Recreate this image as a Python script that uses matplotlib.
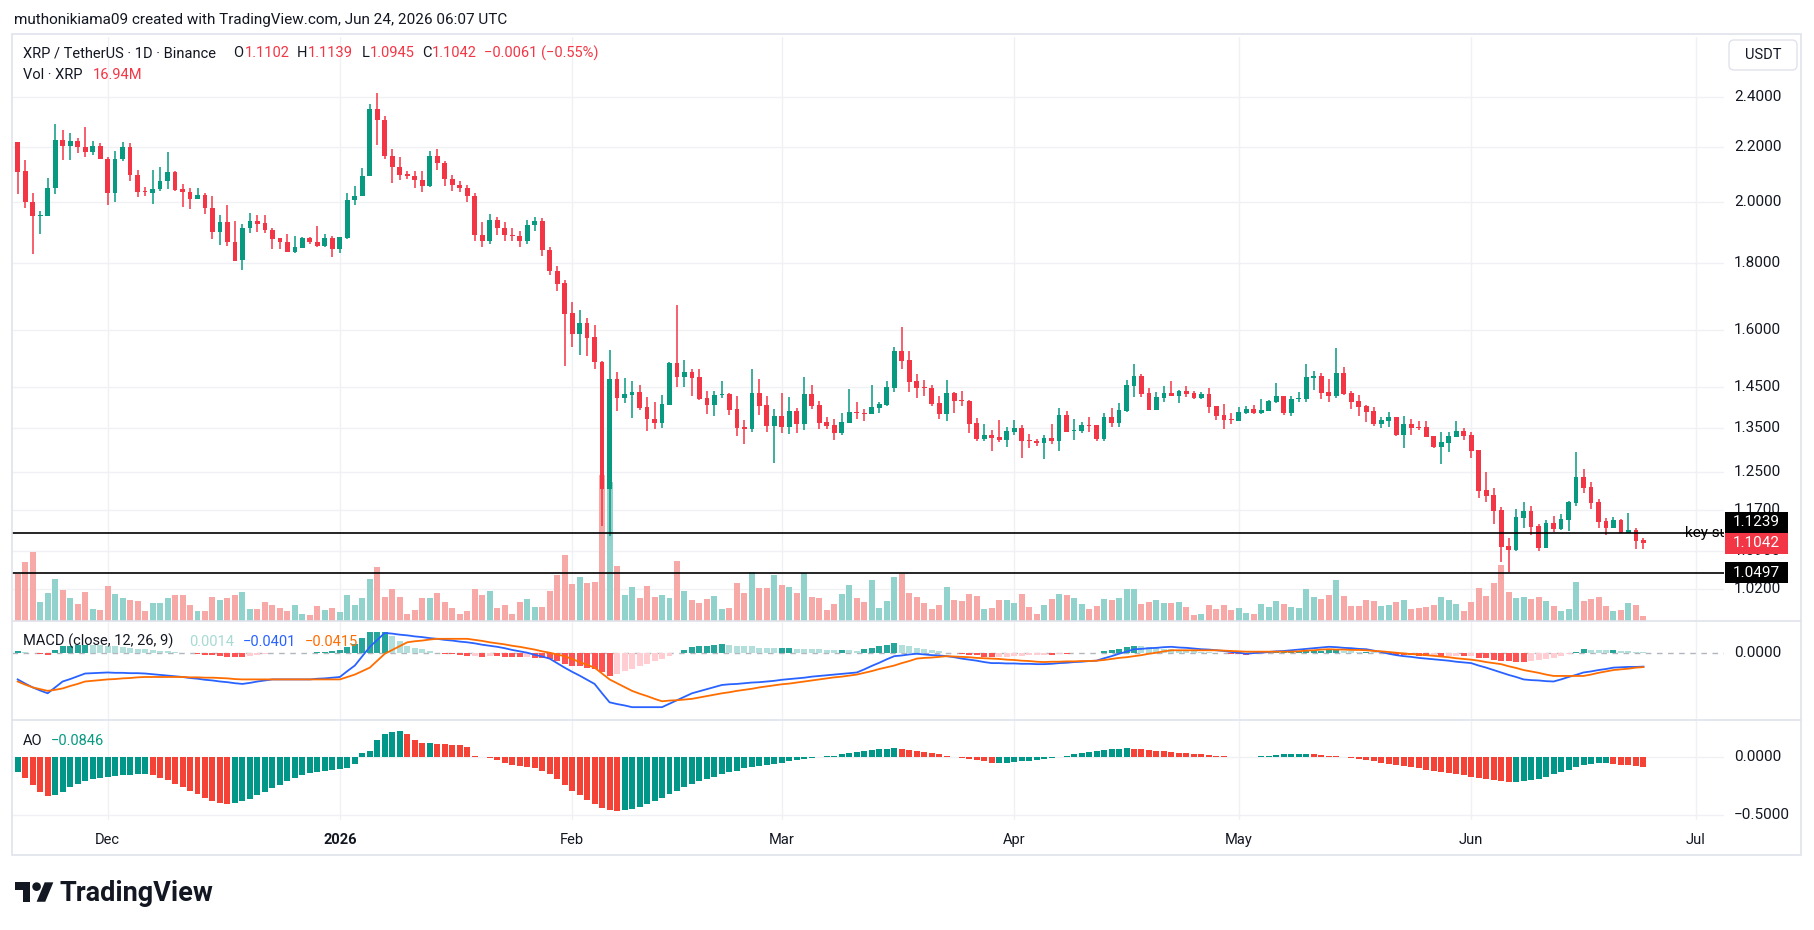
import datetime as dt

import matplotlib

matplotlib.use("Agg")
import matplotlib.pyplot as plt
import numpy as np
from matplotlib.collections import PatchCollection
from matplotlib.patches import Circle, FancyBboxPatch, Polygon, Rectangle
from matplotlib.transforms import Bbox, IdentityTransform

plt.rcParams["font.family"] = ["Roboto", "DejaVu Sans"]

# ---- data (daily XRP/USDT, 2025-11-19 .. 2026-06-24) ----
FIRST_DAY = dt.date(2025, 11, 19)
ORIGIN = dt.date(2025, 12, 1)

opens = [
    # Nov 19-30
    2.2215, 2.1117, 2.0012, 1.9513, 1.9513, 2.0478, 2.2283, 2.2029, 2.2243, 2.2016, 2.1804, 2.2056,
    # Dec
    2.1570, 2.0305, 2.1542, 2.2016, 2.0976, 2.0368, 2.0305, 2.0441, 2.0739, 2.1079, 2.0441, 2.0368,
    2.0098, 2.0256, 1.9809, 1.8978, 1.9324, 1.8671, 1.8072, 1.9105, 1.9359, 1.9266, 1.9059, 1.8772,
    1.8671, 1.8325, 1.8458, 1.8772, 1.8671, 1.8525, 1.8796,
    # Jan
    1.8425, 1.8796, 2.0062, 2.0195, 2.0914, 2.3527, 2.3076, 2.1674, 2.1270, 2.0989, 2.0939, 2.0789,
    2.0552, 2.1674, 2.1413, 2.0800, 2.0600, 2.0500, 2.0200, 1.8900, 1.8700, 1.9400, 1.9100, 1.8900,
    1.8850, 1.8700, 1.9200, 1.9350, 1.8400, 1.7750, 1.7362,
    # Feb
    1.6490, 1.5907, 1.6206, 1.5815, 1.5142, 1.2140, 1.4701, 1.4230, 1.4296, 1.4371, 1.4000, 1.3712,
    1.3626, 1.4058, 1.5116, 1.4753, 1.4881, 1.4753, 1.4222, 1.4058, 1.4296, 1.4321, 1.3953, 1.3532,
    1.3485, 1.4347, 1.4049, 1.3556,
    # Mar
    1.3784, 1.3524, 1.3904, 1.3595, 1.4321, 1.4049, 1.3641, 1.3571, 1.3392, 1.3626, 1.3880, 1.3856,
    1.3840, 1.3985, 1.4049, 1.4480, 1.5434, 1.5194, 1.4649, 1.4497, 1.4472, 1.4099, 1.3840, 1.4346,
    1.4173, 1.4148, 1.3617, 1.3242, 1.3335, 1.3288, 1.3219,
    # Apr
    1.3405, 1.3499, 1.3219, 1.3196, 1.3151, 1.3266, 1.3204, 1.3808, 1.3436, 1.3428, 1.3569, 1.3569,
    1.3242, 1.3760, 1.3617, 1.3904, 1.4522, 1.4777, 1.4346, 1.3928, 1.4222, 1.4346, 1.4272, 1.4396,
    1.4346, 1.4222, 1.4322, 1.4025, 1.3808, 1.3712,
    # May
    1.3665, 1.3856, 1.3953, 1.3856, 1.3904, 1.4123, 1.4272, 1.3856, 1.4197, 1.4197, 1.4734, 1.4777,
    1.4371, 1.4280, 1.4854, 1.4355, 1.4148, 1.4025, 1.3904, 1.3601, 1.3665, 1.3752, 1.3343, 1.3585,
    1.3522, 1.3514, 1.3312, 1.3067, 1.3159, 1.3296, 1.3429,
    # Jun
    1.3335, 1.2991, 1.2118, 1.2013, 1.1703, 1.0993, 1.0923, 1.1549, 1.1683, 1.1382, 1.0961, 1.1442,
    1.1323, 1.1508, 1.1853, 1.2395, 1.2181, 1.1867, 1.1481, 1.1349, 1.1502, 1.1245, 1.1303, 1.1102,
]
highs = [
    2.2215, 2.1529, 2.0331, 1.9702, 2.0864, 2.2910, 2.2676, 2.2567, 2.2364, 2.2799, 2.2243, 2.2176,
    2.1635, 2.1871, 2.2215, 2.2176, 2.1155, 2.0540, 2.1155, 2.1270, 2.1804, 2.1117, 2.0627, 2.0503,
    2.0503, 2.0331, 2.0195, 1.9536, 1.9904, 1.9359, 1.9243, 1.9630, 1.9536, 1.9536, 1.9128, 1.8796,
    1.8932, 1.8864, 1.8830, 1.8830, 1.9197, 1.8910, 1.8864,
    1.8830, 2.0331, 2.0578, 2.1232, 2.3726, 2.4190, 2.3229, 2.1937, 2.1635, 2.1117, 2.1117, 2.1117,
    2.1871, 2.1937, 2.1464, 2.0950, 2.0750, 2.0600, 2.0300, 1.9300, 1.9600, 1.9500, 1.9300, 1.9100,
    1.9000, 1.9400, 1.9500, 1.9450, 1.8500, 1.7900, 1.7463,
    1.6809, 1.6577, 1.6347, 1.6150, 1.5169, 1.5462, 1.4881, 1.4726, 1.4650, 1.4547, 1.4246, 1.4123,
    1.4296, 1.5142, 1.6722, 1.5195, 1.4959, 1.4959, 1.4397, 1.4397, 1.4650, 1.4347, 1.4272, 1.3689,
    1.4959, 1.4701, 1.4272, 1.3953,
    1.4347, 1.4246, 1.3976, 1.4753, 1.4547, 1.4148, 1.3760, 1.3712, 1.3856, 1.4447, 1.4123, 1.3953,
    1.4547, 1.4123, 1.4649, 1.5550, 1.6101, 1.5434, 1.4829, 1.4674, 1.4547, 1.4272, 1.4674, 1.4371,
    1.4396, 1.4173, 1.3736, 1.3593, 1.3452, 1.3688, 1.3522,
    1.3688, 1.3569, 1.3358, 1.3242, 1.3335, 1.3593, 1.3976, 1.3904, 1.3712, 1.3640, 1.3760, 1.3569,
    1.3864, 1.3976, 1.4099, 1.4674, 1.5089, 1.4829, 1.4472, 1.4371, 1.4522, 1.4649, 1.4421, 1.4522,
    1.4396, 1.4371, 1.4472, 1.4025, 1.4075, 1.3856,
    1.4000, 1.4025, 1.4049, 1.4205, 1.4173, 1.4598, 1.4272, 1.4272, 1.4371, 1.5089, 1.4914, 1.4854,
    1.4700, 1.5523, 1.5010, 1.4396, 1.4296, 1.4049, 1.4000, 1.3768, 1.3880, 1.3768, 1.3776, 1.3712,
    1.3672, 1.3665, 1.3312, 1.3405, 1.3405, 1.3665, 1.3499,
    1.3405, 1.2991, 1.2503, 1.2168, 1.1764, 1.1147, 1.1723, 1.1867, 1.1785, 1.1422, 1.1502, 1.1582,
    1.1622, 1.1882, 1.2946, 1.2568, 1.2288, 1.1929, 1.1542, 1.1562, 1.1521, 1.1643, 1.1343, 1.1139,
]
lows = [
    2.0269, 1.9785, 1.8269, 1.8932, 1.9513, 2.0269, 2.1529, 2.1503, 2.1765, 2.1622, 2.1687, 2.1542,
    1.9880, 1.9988, 2.1464, 2.0739, 2.0171, 2.0195, 1.9916, 2.0380, 2.0454, 2.0380, 1.9821, 1.9750,
    2.0098, 1.9583, 1.8750, 1.8547, 1.8525, 1.8040, 1.7758, 1.8944, 1.8978, 1.8944, 1.8425, 1.8425,
    1.8325, 1.8292, 1.8458, 1.8582, 1.8491, 1.8491, 1.8170,
    1.8292, 1.8750, 1.9880, 2.0195, 2.0914, 2.2069, 2.1570, 2.0689, 2.0764, 2.0826, 2.0478, 2.0368,
    2.0515, 2.1155, 2.0578, 2.0400, 2.0350, 2.0000, 1.8700, 1.8500, 1.8600, 1.8900, 1.8700, 1.8700,
    1.8500, 1.8600, 1.9000, 1.8200, 1.7600, 1.7143, 1.5037,
    1.5542, 1.5328, 1.5301, 1.4959, 1.1389, 1.1186, 1.3904, 1.4099, 1.3737, 1.3928, 1.3431, 1.3477,
    1.3508, 1.4058, 1.4497, 1.4497, 1.4272, 1.4172, 1.3832, 1.3784, 1.4222, 1.3808, 1.3315, 1.3131,
    1.3407, 1.3808, 1.3407, 1.2701,
    1.3392, 1.3361, 1.3392, 1.3454, 1.3953, 1.3477, 1.3477, 1.3222, 1.3346, 1.3626, 1.3712, 1.3666,
    1.3840, 1.3864, 1.4033, 1.4379, 1.4967, 1.4379, 1.4231, 1.4280, 1.4033, 1.3720, 1.3665, 1.3864,
    1.4025, 1.3389, 1.3204, 1.3204, 1.2968, 1.3181, 1.3059,
    1.3335, 1.2811, 1.3037, 1.3081, 1.2789, 1.3127, 1.2968, 1.3405, 1.3219, 1.3389, 1.3405, 1.3196,
    1.3196, 1.3522, 1.3522, 1.3880, 1.4247, 1.4247, 1.3928, 1.3928, 1.4123, 1.4272, 1.4099, 1.4247,
    1.4197, 1.4197, 1.3856, 1.3688, 1.3475, 1.3593,
    1.3665, 1.3831, 1.3831, 1.3831, 1.3904, 1.4099, 1.3808, 1.3784, 1.4123, 1.4123, 1.4421, 1.4205,
    1.4131, 1.4231, 1.4305, 1.3960, 1.3776, 1.3649, 1.3554, 1.3506, 1.3530, 1.3320, 1.3045, 1.3343,
    1.3460, 1.3296, 1.3045, 1.2686, 1.2954, 1.3296, 1.3227,
    1.2820, 1.1958, 1.1874, 1.1428, 1.0697, 1.0500, 1.0904, 1.1343, 1.1212, 1.0904, 1.0961, 1.1270,
    1.1303, 1.1290, 1.1792, 1.2061, 1.1731, 1.1349, 1.1212, 1.1349, 1.1245, 1.1245, 1.0942, 1.0945,
]
closes = [
    2.1079, 1.9988, 1.9513, 1.9536, 2.0503, 2.2283, 2.2029, 2.2243, 2.1990, 2.1804, 2.2056, 2.1542,
    2.0305, 2.1570, 2.2016, 2.0951, 2.0343, 2.0343, 2.0466, 2.0751, 2.1079, 2.0405, 2.0343, 2.0098,
    2.0256, 1.9785, 1.8978, 1.9324, 1.8649, 1.8061, 1.9128, 1.9359, 1.9243, 1.9046, 1.8750, 1.8649,
    1.8325, 1.8480, 1.8772, 1.8649, 1.8525, 1.8796, 1.8425,
    1.8830, 2.0086, 2.0220, 2.0939, 2.3527, 2.3048, 2.1648, 2.1244, 2.0951, 2.0939, 2.0764, 2.0552,
    2.1674, 2.1387, 2.0801, 2.0600, 2.0500, 2.0200, 1.8900, 1.8700, 1.9400, 1.9100, 1.8900, 1.8850,
    1.8700, 1.9200, 1.9350, 1.8400, 1.7750, 1.7343, 1.6471,
    1.5907, 1.6206, 1.5796, 1.5142, 1.2140, 1.4701, 1.4230, 1.4321, 1.4371, 1.3976, 1.3712, 1.3626,
    1.4075, 1.5116, 1.4753, 1.4881, 1.4726, 1.4205, 1.4058, 1.4296, 1.4321, 1.3936, 1.3508, 1.3485,
    1.4347, 1.4033, 1.3556, 1.3784,
    1.3524, 1.3904, 1.3595, 1.4321, 1.4025, 1.3618, 1.3556, 1.3392, 1.3641, 1.3880, 1.3856, 1.3840,
    1.4000, 1.4083, 1.4497, 1.5434, 1.5177, 1.4632, 1.4480, 1.4480, 1.4083, 1.3840, 1.4346, 1.4157,
    1.4157, 1.3601, 1.3242, 1.3335, 1.3266, 1.3219, 1.3428,
    1.3499, 1.3204, 1.3204, 1.3151, 1.3266, 1.3204, 1.3808, 1.3405, 1.3452, 1.3569, 1.3553, 1.3242,
    1.3760, 1.3617, 1.3928, 1.4547, 1.4777, 1.4322, 1.3928, 1.4247, 1.4346, 1.4272, 1.4396, 1.4322,
    1.4222, 1.4322, 1.4000, 1.3784, 1.3688, 1.3696,
    1.3880, 1.3953, 1.3856, 1.3928, 1.4148, 1.4272, 1.3856, 1.4197, 1.4222, 1.4751, 1.4777, 1.4355,
    1.4280, 1.4854, 1.4322, 1.4131, 1.4009, 1.3888, 1.3601, 1.3688, 1.3752, 1.3343, 1.3585, 1.3506,
    1.3506, 1.3296, 1.3067, 1.3173, 1.3312, 1.3429, 1.3320,
    1.2977, 1.2103, 1.1998, 1.1690, 1.0980, 1.0923, 1.1562, 1.1683, 1.1369, 1.0961, 1.1442, 1.1329,
    1.1521, 1.1867, 1.2395, 1.2168, 1.1853, 1.1468, 1.1349, 1.1502, 1.1245, 1.1303, 1.1095, 1.1042,
]
volumes = [  # millions of XRP
    170, 211, 248, 68, 100, 150, 111, 82, 60, 104, 42, 39,
    125, 96, 82, 75, 71, 35, 64, 64, 82, 93, 93, 56, 35, 35, 85, 75, 82, 93, 104, 42, 42, 68, 56,
    46, 35, 56, 25, 21, 54, 39, 46,
    31, 93, 56, 82, 150, 194, 85, 114, 85, 25, 39, 82, 82, 100, 68, 47, 25, 36, 115, 94, 108, 47,
    58, 25, 68, 79, 50, 50, 108, 166, 238,
    133, 158, 137, 140, 526, 500, 198, 94, 122, 83, 126, 86, 94, 83, 216, 108, 76, 65, 79, 90, 43,
    47, 137, 101, 176, 119, 119, 166,
    130, 122, 101, 173, 86, 83, 40, 61, 97, 130, 83, 68, 148, 47, 72, 158, 169, 101, 86, 65, 43,
    58, 122, 76, 72, 97, 90, 43, 47, 76, 76,
    65, 97, 50, 25, 58, 79, 97, 94, 83, 61, 43, 54, 79, 76, 83, 115, 115, 61, 68, 76, 65, 65, 68,
    50, 22, 25, 58, 43, 58, 40,
    47, 29, 25, 61, 50, 72, 61, 50, 47, 115, 85, 78, 93, 147, 89, 53, 53, 75, 71, 53, 57, 67, 75,
    42, 46, 49, 57, 85, 75, 60, 35,
    67, 118, 89, 136, 201, 103, 82, 85, 78, 85, 71, 53, 35, 42, 139, 71, 78, 85, 53, 35, 39, 64,
    57, 16.94,
]
macd_line = [
    -0.077, -0.089, -0.100, -0.109, -0.117, -0.100, -0.083, -0.076, -0.068, -0.060, -0.059, -0.058,
    -0.057, -0.058, -0.058, -0.059, -0.059, -0.060, -0.062, -0.064, -0.066, -0.068, -0.070, -0.073,
    -0.075, -0.078, -0.080, -0.083, -0.085, -0.088, -0.090, -0.087, -0.083, -0.080, -0.077, -0.077,
    -0.077, -0.077, -0.077, -0.077, -0.075, -0.074, -0.072,
    -0.070, -0.053, -0.037, -0.010, 0.017, 0.037, 0.057, 0.055, 0.052, 0.050, 0.047, 0.045, 0.042,
    0.040, 0.037, 0.035, 0.032, 0.030, 0.027, 0.023, 0.020, 0.017, 0.013, 0.008, 0.004, 0.000,
    -0.006, -0.011, -0.017, -0.030, -0.043,
    -0.055, -0.066, -0.078, -0.090, -0.117, -0.143, -0.148, -0.152, -0.157, -0.157, -0.157, -0.157,
    -0.157, -0.147, -0.137, -0.127, -0.117, -0.111, -0.105, -0.099, -0.093, -0.091, -0.090, -0.088,
    -0.086, -0.085, -0.083, -0.081,
    -0.078, -0.076, -0.074, -0.072, -0.069, -0.067, -0.065, -0.063, -0.061, -0.059, -0.057, -0.048,
    -0.038, -0.029, -0.019, -0.010, -0.008, -0.005, -0.003, -0.005, -0.007, -0.008, -0.010, -0.013,
    -0.017, -0.020, -0.023, -0.027, -0.030, -0.030, -0.031,
    -0.031, -0.032, -0.032, -0.033, -0.033, -0.032, -0.030, -0.029, -0.027, -0.026, -0.024, -0.023,
    -0.016, -0.010, -0.003, 0.003, 0.010, 0.011, 0.013, 0.014, 0.016, 0.017, 0.015, 0.014, 0.012,
    0.010, 0.009, 0.007, 0.005, 0.002,
    0.000, -0.003, -0.001, 0.000, 0.002, 0.004, 0.005, 0.007, 0.009, 0.011, 0.013, 0.015, 0.017,
    0.016, 0.014, 0.013, 0.011, 0.010, 0.006, 0.002, -0.003, -0.007, -0.010, -0.012, -0.015, -0.017,
    -0.019, -0.021, -0.023, -0.026, -0.028,
    -0.030, -0.037, -0.043, -0.050, -0.057, -0.064, -0.070, -0.077, -0.079, -0.080, -0.082, -0.083,
    -0.077, -0.070, -0.064, -0.057, -0.054, -0.050, -0.047, -0.043, -0.042, -0.041, -0.041, -0.0401,
]
signal_line = [
    -0.083, -0.092, -0.100, -0.105, -0.110, -0.107, -0.103, -0.096, -0.090, -0.083, -0.081, -0.079,
    -0.077, -0.076, -0.074, -0.073, -0.071, -0.070, -0.070, -0.070, -0.070, -0.070, -0.070, -0.071,
    -0.071, -0.072, -0.072, -0.073, -0.074, -0.076, -0.077, -0.077, -0.077, -0.077, -0.077, -0.077,
    -0.077, -0.077, -0.077, -0.077, -0.077, -0.077, -0.077,
    -0.077, -0.070, -0.063, -0.053, -0.043, -0.023, -0.003, 0.008, 0.019, 0.030, 0.033, 0.035,
    0.038, 0.040, 0.040, 0.040, 0.040, 0.040, 0.037, 0.034, 0.030, 0.027, 0.024, 0.020, 0.017,
    0.013, 0.009, 0.004, 0.000, -0.005, -0.010,
    -0.018, -0.027, -0.035, -0.043, -0.060, -0.077, -0.088, -0.099, -0.110, -0.118, -0.125, -0.133,
    -0.140, -0.138, -0.137, -0.135, -0.133, -0.129, -0.125, -0.121, -0.117, -0.114, -0.110, -0.107,
    -0.104, -0.100, -0.097, -0.094,
    -0.091, -0.089, -0.086, -0.083, -0.080, -0.077, -0.074, -0.071, -0.069, -0.066, -0.063, -0.058,
    -0.053, -0.047, -0.042, -0.037, -0.030, -0.024, -0.017, -0.015, -0.014, -0.012, -0.010, -0.011,
    -0.012, -0.013, -0.015, -0.016, -0.017, -0.018, -0.020,
    -0.021, -0.023, -0.024, -0.026, -0.027, -0.026, -0.026, -0.025, -0.025, -0.024, -0.024, -0.023,
    -0.021, -0.018, -0.015, -0.013, -0.010, -0.007, -0.003, 0.000, 0.004, 0.007, 0.007, 0.007,
    0.007, 0.007, 0.007, 0.007, 0.006, 0.005,
    0.004, 0.003, 0.003, 0.003, 0.003, 0.003, 0.003, 0.003, 0.004, 0.006, 0.007, 0.009, 0.010,
    0.009, 0.009, 0.008, 0.008, 0.007, 0.005, 0.004, 0.002, 0.000, -0.002, -0.004, -0.005, -0.007,
    -0.009, -0.011, -0.013, -0.016, -0.018,
    -0.020, -0.023, -0.027, -0.030, -0.033, -0.039, -0.044, -0.050, -0.054, -0.058, -0.063, -0.067,
    -0.067, -0.067, -0.067, -0.067, -0.063, -0.058, -0.054, -0.050, -0.048, -0.046, -0.043, -0.0415,
]
ao_values = [
    -0.13, -0.18, -0.24, -0.30, -0.34, -0.33, -0.30, -0.26, -0.23, -0.21, -0.19, -0.18,
    -0.17, -0.165, -0.16, -0.155, -0.15, -0.15, -0.16, -0.18, -0.20, -0.23, -0.26, -0.29, -0.32,
    -0.35, -0.38, -0.40, -0.41, -0.40, -0.38, -0.36, -0.33, -0.30, -0.27, -0.24, -0.21, -0.18,
    -0.16, -0.14, -0.13, -0.12, -0.11,
    -0.105, -0.10, -0.063, 0.028, 0.05, 0.146, 0.197, 0.214, 0.22, 0.195, 0.146, 0.117, 0.118,
    0.111, 0.110, 0.10, 0.097, 0.086, 0.01, -0.005, -0.015, -0.03, -0.05, -0.07, -0.08, -0.09,
    -0.10, -0.12, -0.15, -0.19, -0.24,
    -0.29, -0.33, -0.37, -0.41, -0.44, -0.46, -0.47, -0.46, -0.45, -0.43, -0.41, -0.38, -0.35,
    -0.32, -0.29, -0.26, -0.23, -0.21, -0.19, -0.17, -0.15, -0.13, -0.12, -0.10, -0.09, -0.08,
    -0.07, -0.06,
    -0.05, -0.04, -0.03, -0.02, -0.01, -0.005, 0.005, 0.01, 0.02, 0.03, 0.04, 0.05, 0.06, 0.065,
    0.07, 0.075, 0.07, 0.06, 0.05, 0.04, 0.03, 0.02, 0.01, 0.0, -0.01, -0.02, -0.03, -0.04, -0.05,
    -0.05, -0.05,
    -0.045, -0.04, -0.035, -0.03, -0.02, -0.01, 0.0, 0.01, 0.02, 0.03, 0.04, 0.05, 0.06, 0.065,
    0.07, 0.075, 0.07, 0.065, 0.06, 0.05, 0.045, 0.04, 0.035, 0.03, 0.025, 0.02, 0.015, 0.01,
    0.005, 0.0,
    -0.005, -0.005, 0.0, 0.005, 0.01, 0.015, 0.02, 0.02, 0.02, 0.025, 0.02, 0.015, 0.01, 0.005,
    0.0, -0.01, -0.02, -0.03, -0.04, -0.05, -0.06, -0.07, -0.08, -0.09, -0.10, -0.11, -0.12, -0.13,
    -0.14, -0.15, -0.16,
    -0.17, -0.18, -0.19, -0.20, -0.21, -0.22, -0.22, -0.21, -0.20, -0.19, -0.17, -0.15, -0.13,
    -0.11, -0.09, -0.075, -0.065, -0.058, -0.055, -0.06, -0.068, -0.074, -0.08, -0.0846,
]

price_ticks = [1.02, 1.09, 1.17, 1.25, 1.35, 1.45, 1.6, 1.8, 2.0, 2.2, 2.4]
level_lines = [1.1239, 1.0497]
months = [(dt.date(2025, 12, 1), "Dec"), (dt.date(2026, 1, 1), "2026"), (dt.date(2026, 2, 1), "Feb"),
          (dt.date(2026, 3, 1), "Mar"), (dt.date(2026, 4, 1), "Apr"), (dt.date(2026, 5, 1), "May"),
          (dt.date(2026, 6, 1), "Jun"), (dt.date(2026, 7, 1), "Jul")]

# ---- style ----
W, H = 1814, 930
UP, DOWN = "#089981", "#F23645"
VOL_UP, VOL_DOWN = "#92D2CC", "#F7A9A7"
GRID = "#F0F1F4"
TXT = "#131722"
FS = 10.5
ID = IdentityTransform()

fig = plt.figure(figsize=(W / 100, H / 100), dpi=100)


def rect(l, t, r, b):
    return [l / W, 1 - b / H, (r - l) / W, (b - t) / H]


def ptext(x, y, s, **kw):
    kw.setdefault("fontsize", FS)
    kw.setdefault("color", TXT)
    kw.setdefault("va", "center")
    return fig.text(x, H - y, s, transform=ID, **kw)


PL, PR = 12, 1724
ax_p = fig.add_axes(rect(PL, 37, PR, 621))
ax_m = fig.add_axes(rect(PL, 621, PR, 720))
ax_a = fig.add_axes(rect(PL, 720, PR, 820))

n = len(closes)
x = np.array([(FIRST_DAY + dt.timedelta(days=i) - ORIGIN).days for i in range(n)])
mx = [(d - ORIGIN).days for d, _ in months]

for ax in (ax_p, ax_m, ax_a):
    ax.set_xlim(-12.76, 215.75)
    ax.set_xticks([])
    ax.set_yticks([])
    for s in ax.spines.values():
        s.set_visible(False)
    for m in mx:
        ax.axvline(m, color=GRID, lw=1, zorder=0)

# price pane
o, h, l, c = map(np.array, (opens, highs, lows, closes))
up = c >= o
col = np.where(up, UP, DOWN)
ax_p.set_yscale("log")
ax_p.set_ylim(0.9648, 2.665)
ax_p.yaxis.set_minor_locator(matplotlib.ticker.NullLocator())
ax_p.set_yticks([])
for t in price_ticks:
    ax_p.axhline(t, color=GRID, lw=1, zorder=0)

vol_col = np.where(up, VOL_UP, VOL_DOWN)
vol_top = 2102.0
bars = [Rectangle((xi - 0.4, 0), 0.8, v / vol_top) for xi, v in zip(x, volumes)]
ax_p.add_collection(PatchCollection(bars, facecolors=vol_col, edgecolors="none",
                                    transform=ax_p.get_xaxis_transform(), zorder=1),
                    autolim=False)

ax_p.vlines(x, l, h, colors=col, lw=1.1, zorder=3)
lo = np.minimum(o, c)
hi = np.maximum(np.maximum(o, c), lo * 1.0018)
ax_p.bar(x, hi - lo, bottom=lo, width=0.64, color=col, lw=0, zorder=4)

for lv in level_lines:
    ax_p.axhline(lv, color="black", lw=1.2, zorder=5)
ax_p.text(210.5, level_lines[0], "key support", fontsize=11, color="black", va="center",
          ha="left", clip_on=True, zorder=6)

# MACD pane
macd = np.array(macd_line)
sig = np.array(signal_line)
hist = macd - sig
hcol = []
for i, v in enumerate(hist):
    prev = hist[i - 1] if i else v
    if v >= 0:
        hcol.append("#26A69A" if v >= prev else "#B2DFDB")
    else:
        hcol.append("#FFCDD2" if v > prev else "#FF5252")
ax_m.set_ylim(-0.194, 0.0914)
ax_m.axhline(0, color="#B2B5BE", lw=1, ls=(0, (4, 4)), zorder=1)
ax_m.bar(x, hist, width=0.8, color=hcol, lw=0, zorder=2)
ax_m.plot(x, macd, color="#2962FF", lw=1.3, zorder=3)
ax_m.plot(x, sig, color="#FF6D00", lw=1.3, zorder=3)

# AO pane
ao = np.array(ao_values)
acol = [("#009688" if (i == 0 or v >= ao[i - 1]) else "#F44336") for i, v in enumerate(ao)]
ax_a.set_ylim(-0.543, 0.315)
for t in (0, -0.5):
    ax_a.axhline(t, color=GRID, lw=1, zorder=0)
ax_a.bar(x, ao, width=0.8, color=acol, lw=0, zorder=2)


def ypix(ax, v):
    return H - ax.transData.transform((0, v))[1]


def xpix(ax, v):
    return ax.transData.transform((v, 1))[0]


# right axis labels
for t in price_ticks:
    ptext(1734, ypix(ax_p, t), f"{t:.4f}", fontsize=11)
ptext(1734, ypix(ax_m, 0), "0.0000", fontsize=11)
ptext(1734, ypix(ax_a, 0), "0.0000", fontsize=11)
lab = ptext(1734, ypix(ax_a, -0.5), "\u22120.5000", fontsize=11)
lab.set_clip_box(Bbox.from_extents(0, H - 820, W, H))
lab.set_clip_on(True)

# price tags on the axis
yc = ypix(ax_p, closes[-1])
tags = [(yc - 21, f"{level_lines[0]:.4f}", "black"), (yc, f"{closes[-1]:.4f}", DOWN),
        (ypix(ax_p, level_lines[1]), f"{level_lines[1]:.4f}", "black")]
for ty, s, fc in tags:
    fig.add_artist(Rectangle((1725, H - ty - 10.5), 63, 21, transform=ID, facecolor=fc,
                             edgecolor="none", zorder=5))
    ptext(1756.5, ty, s, fontsize=11, color="white", ha="center", zorder=6)

fig.add_artist(FancyBboxPatch((1729, H - 70), 68, 30, boxstyle="round,pad=0,rounding_size=5",
                              transform=ID, facecolor="white", edgecolor="#E0E3EB", lw=1))
ptext(1763, 55, "USDT", ha="center", fontsize=10.5)

# time axis
for m, (_, s) in zip(mx, months):
    ptext(xpix(ax_p, m), 840, s, ha="center", fontsize=FS,
          fontweight="bold" if s == "2026" else "normal")

# frame and pane separators
fig.add_artist(Rectangle((12, H - 855), 1789, 821, transform=ID, fill=False,
                         edgecolor="#E0E3EB", lw=1.2))
for yy in (621, 720):
    fig.add_artist(plt.Line2D([12, 1801], [H - yy, H - yy], transform=ID, color="#E0E3EB", lw=1.2))

# legends
ptext(14, 20, "muthonikiama09 created with TradingView.com, Jun 24, 2026 06:07 UTC", fontsize=11)
row = [(23.2, "XRP / TetherUS \u00b7 1D \u00b7 Binance", TXT), (233.5, "O", TXT), (244.6, "1.1102", DOWN),
       (296.9, "H", TXT), (308, "1.1139", DOWN), (361.6, "L", TXT), (369.6, "1.0945", DOWN),
       (421.9, "C", TXT), (432.1, "1.1042", DOWN), (484.4, "\u22120.0061 (\u22120.55%)", DOWN)]
for xx, s, cc in row:
    ptext(xx, 53, s, color=cc)
ptext(23.2, 75, "Vol \u00b7 XRP", color=TXT)
ptext(92.9, 75, "16.94M", color=DOWN)
ptext(22.7, 641.7, "MACD (close, 12, 26, 9)")
ptext(189.3, 641.7, "0.0014", color="#A8DAD3")
ptext(243.3, 641.7, "\u22120.0401", color="#2962FF")
ptext(305, 641.7, "\u22120.0415", color="#FF6D00")
ptext(22.7, 740.7, "AO")
ptext(51, 740.7, "\u22120.0846", color="#089981")

# TradingView logo
s, ox, oy = 1.08, 15, 878


def lp(pts):
    return [(ox + u * s, H - (oy + v * s)) for u, v in pts]


fig.add_artist(Polygon(lp([(14, 22), (7, 22), (7, 11), (0, 11), (0, 4), (14, 4)]),
                       transform=ID, facecolor=TXT, edgecolor="none"))
fig.add_artist(Polygon(lp([(28, 22), (20, 22), (27.5, 4), (35.5, 4)]),
                       transform=ID, facecolor=TXT, edgecolor="none"))
cx, cy = lp([(20, 8)])[0]
fig.add_artist(Circle((cx, cy), 4 * s, transform=ID, facecolor=TXT, edgecolor="none"))
ptext(60, 893, "TradingView", fontsize=19.5, fontweight="bold")

fig.savefig("out.png", dpi=100, facecolor="white")
